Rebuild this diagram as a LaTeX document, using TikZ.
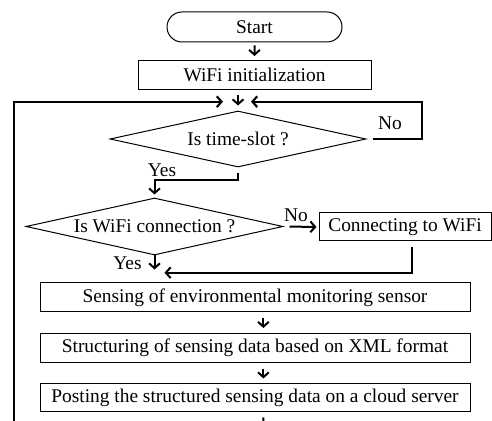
\documentclass[tikz,border=0pt]{standalone}
\usepackage{fontspec}
\setmainfont{Liberation Serif}
\usepackage{tikz}
\usetikzlibrary{arrows.meta, shapes.geometric, shapes.misc}

\begin{document}
\begin{tikzpicture}[
  x=0.5pt, y=-0.5pt,
  every node/.style={font=\fontsize{9.7pt}{11pt}\selectfont},
  terminal/.style={draw, line width=0.5pt, rounded rectangle, minimum width=87.5pt, minimum height=15pt, inner sep=0pt},
  process/.style={draw, line width=0.5pt, rectangle, minimum height=14.5pt, inner sep=0pt},
  decision/.style={draw, line width=0.5pt, diamond, aspect=4.5, inner sep=0pt, minimum width=128pt, minimum height=28pt},
  flow/.style={line width=1pt, -{Straight Barb[length=2.4pt, width=5.4pt]}},
  back/.style={line width=1.05pt, -{Straight Barb[length=2.4pt, width=5.4pt]}},
  answer/.style={inner sep=0pt}
  ]
  \useasboundingbox (0,0) rectangle (492,421);

  % Boxes
  \node[terminal] (start) at (254.5,27) {Start};
  \node[process, minimum width=116.5pt] (init) at (254.5,75) {WiFi initialization};
  \node[decision] (slot) at (238,139) {Is time-slot ?};
  \node[decision, minimum width=128.5pt, minimum height=28.5pt] (wifi) at (154.5,226.5) {Is WiFi connection ?};
  \node[process, minimum width=86pt, minimum height=14pt] (connect) at (405,227) {Connecting to WiFi};
  \node[process, minimum width=215pt] (sense) at (255,297.5) {Sensing of environmental monitoring sensor};
  \node[process, minimum width=215pt] (struct) at (255,348) {Structuring of sensing data based on XML format};
  \node[process, minimum width=215pt, minimum height=14pt] (post) at (255,398) {Posting the structured sensing data on a cloud server};

  % Junctions
  \coordinate (merge) at (237,101.7);
  \coordinate (loopL) at (14,421);
  \coordinate (loopR) at (421.7,101.7);
  \coordinate (merge2) at (153.5,272.7);
  \coordinate (postout) at (263.3,421);

  % Arrows
  \draw[flow, shorten <=1.5pt, shorten >=2pt] (start) -- (init);
  \draw[flow, shorten <=2.5pt, shorten >=2.5pt] (init.south -| slot.north) -- (slot.north);
  \draw[back, shorten >=7pt] (loopL) |- (merge);
  \draw[back, shorten <=3pt, shorten >=7pt] (slot.east) -| (loopR) -- (merge);
  \draw[flow, shorten <=3pt, shorten >=1.5pt] (slot.south) -- ++(0,13) -| (wifi.north);
  \draw[flow, shorten <=3pt, shorten >=1pt] (wifi.east) -- (connect.west);
  \draw[flow, shorten <=3pt, shorten >=5.5pt] ([xshift=3.3pt]connect.south) |- (merge2);
  \draw[flow, shorten >=6.5pt] (wifi.south) -- (wifi.south |- sense.north);
  \draw[flow, shorten <=3pt, shorten >=2.5pt] ([xshift=4.2pt]sense.south) -- ([xshift=4.2pt]struct.north);
  \draw[flow, shorten <=3pt, shorten >=2.5pt] ([xshift=4.2pt]struct.south) -- ([xshift=4.2pt]post.north);
  \draw[line width=1pt, shorten <=2.5pt] ([xshift=4.2pt]post.south) -- (postout);

  % Answers
  \node[answer] (no1) at (390,123) {No};
  \node[answer] (yes1) at (162,170) {Yes};
  \node[answer] (no2) at (296,215) {No};
  \node[answer] (yes2) at (127.5,263) {Yes};

\end{tikzpicture}
\end{document}
